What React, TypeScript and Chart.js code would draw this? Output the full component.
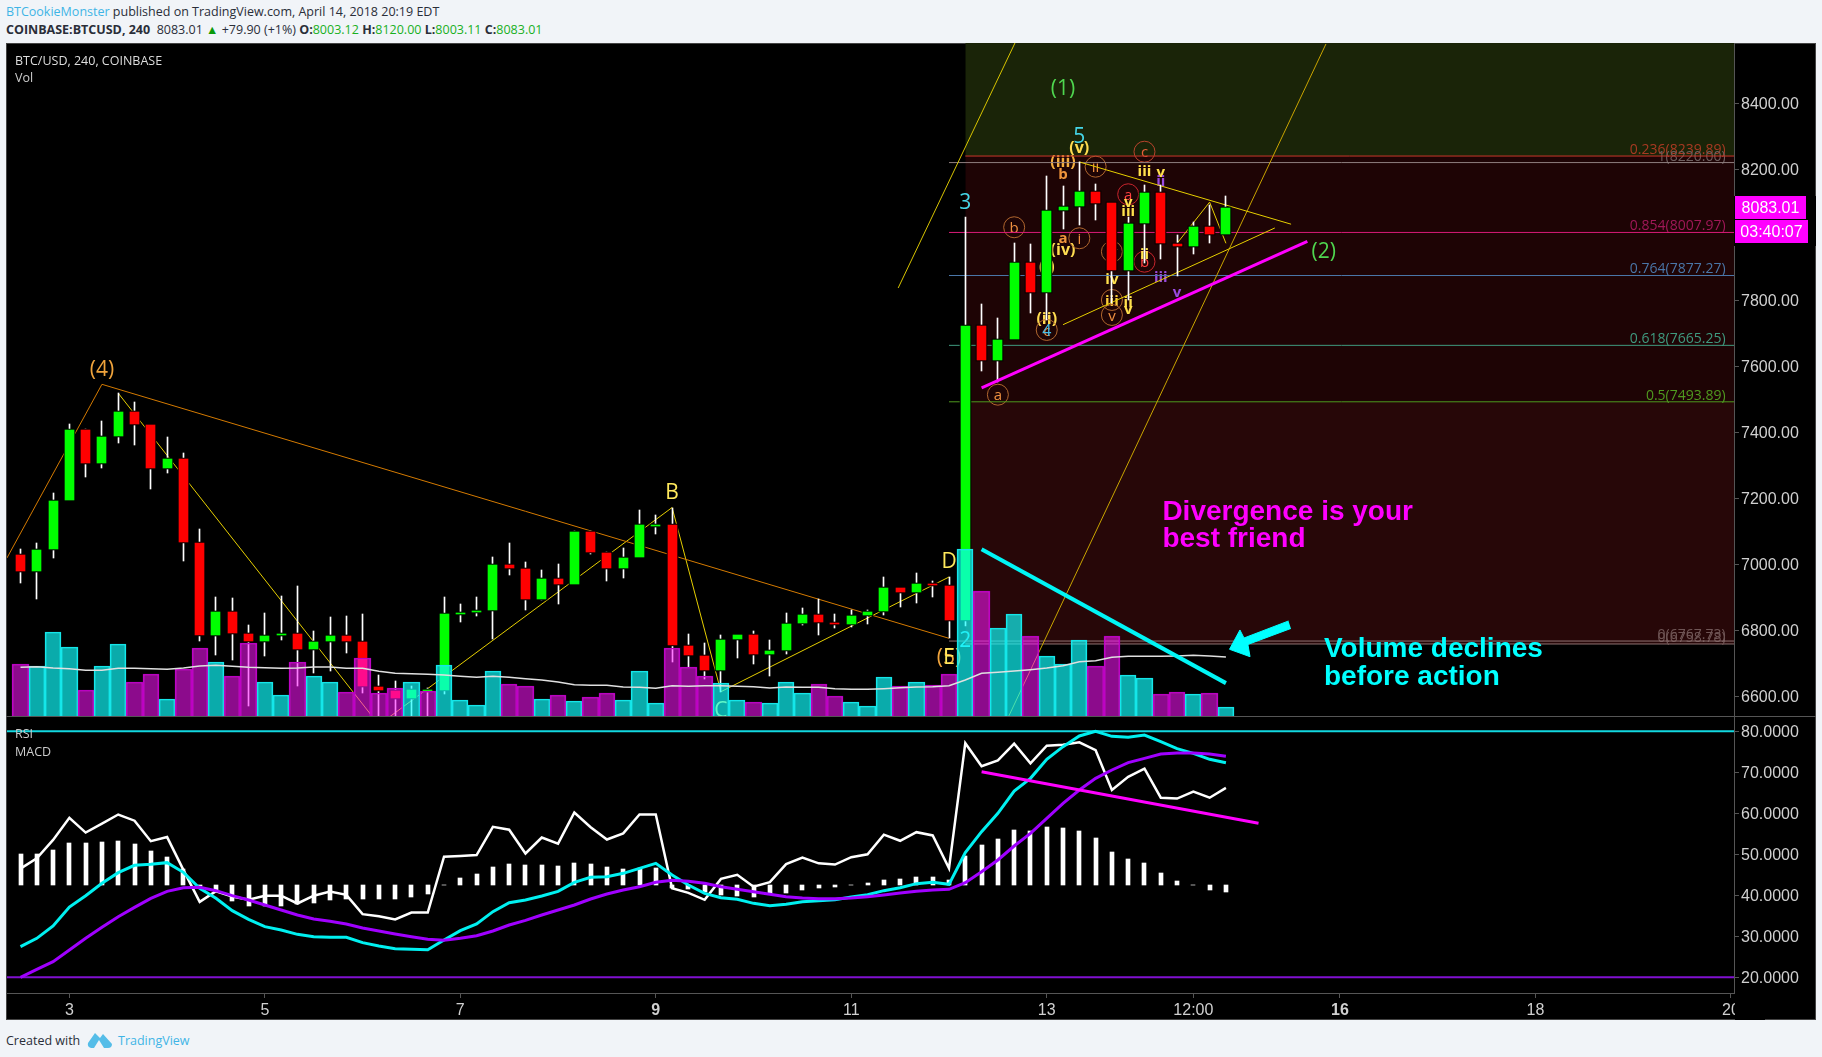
import React, { useEffect, useRef } from "react";
import { Chart, registerables } from "chart.js";

Chart.register(...registerables);

// ---------- DATA ----------
const opens = [7029,6980,7047,7196,7408,7308,7390,7464,7423,7293,7320,7065,6786,6856,6789,6768,6786,6789,6744,6768,6783,6765,6628,6616,6595,6619,6619,6853,6855,6862,6999,6986,6895,6956,6941,7099,7035,6989,7023,7120,7120,6752,6722,6680,6774,6786,6728,6740,6822,6847,6823,6819,6847,6859,6929,6917,6941,6935,6832,7725,7620,7684,7916,7826,8075,8087,8132,8096,7894,8036,8129,7974,7966,8026,8003.12];
const highs = [7046,7064,7216,7427,7410,7436,7520,7494,7425,7387,7339,7108,6901,6898,6816,6853,6904,6935,6798,6841,6844,6850,6665,6646,6631,6624,6901,6880,6901,7023,7065,7008,6983,7002,7101,7101,7037,7050,7165,7150,7173,6789,6761,6786,6787,6798,6771,6853,6868,6895,6850,6862,6862,6962,6930,6974,6950,6962,8054,7791,7747,7975,7973,8179,8149,8222,8155,8098,8056,8152,8152,8000,8041,8091,8120];
const lows = [6944,6895,7020,7196,7266,7293,7369,7363,7229,7278,7011,6768,6725,6710,6570,6722,6771,6631,6671,6677,6731,6609,6537,6540,6540,6540,6607,6825,6844,6774,6968,6862,6893,6880,6941,7032,6950,6959,7022,7093,6704,6690,6654,6614,6716,6698,6661,6728,6816,6786,6807,6811,6819,6847,6871,6883,6901,6776,6813,7588,7555,7684,7762,7742,8019,8030,8046,7793,7803,7914,7928,7877,7944,7976,8003.11];
const closes = [6980,7044,7193,7408,7308,7387,7464,7427,7293,7320,7068,6786,6856,6792,6768,6783,6790,6744,6765,6783,6768,6631,6619,6595,6619,6619,6850,6853,6858,6999,6989,6895,6956,6941,7099,7038,6989,7020,7120,7120,6756,6725,6680,6771,6786,6728,6737,6819,6847,6826,6820,6844,6856,6929,6917,6941,6938,6832,7724,7620,7683,7916,7826,8074,8086,8132,8096,7894,8035,8129,7975,7966,8026,8002,8083.01];
const volumes = [1550,1510,2510,2060,770,1510,2150,1010,1250,500,1400,2030,1610,1190,2180,1010,620,1610,1190,1010,710,1730,680,830,1010,740,1520,470,320,1340,950,890,500,620,440,560,680,470,1340,380,2030,1460,1190,980,480,410,380,1010,680,950,590,410,290,1160,890,1010,920,1250,5000,3740,2630,3050,2390,1790,1550,2270,1490,2390,1220,1130,650,710,650,680,260];
const volumeMA = [1460,1480,1440,1420,1370,1370,1430,1430,1420,1400,1440,1500,1520,1490,1460,1450,1430,1440,1470,1470,1430,1430,1340,1280,1270,1250,1230,1190,1160,1190,1160,1120,1080,1020,940,920,920,870,860,830,910,890,910,910,890,880,840,870,860,860,820,800,800,820,850,870,880,910,1080,1280,1310,1350,1390,1440,1510,1630,1660,1760,1790,1790,1790,1800,1820,1800,1770];
const volumeUp = [0,1,1,1,0,1,1,0,0,1,0,0,1,0,0,1,1,0,1,1,0,0,0,0,1,0,1,1,1,1,0,0,1,0,1,0,0,1,1,1,0,0,0,1,1,0,1,1,1,0,0,1,1,1,0,1,0,0,1,0,1,1,0,1,1,1,0,0,1,1,0,0,1,0,1];
const rsiValues = [46.5,49.0,53.5,58.9,55.3,57.5,59.7,58.2,53.2,54.2,46.2,38.4,41.0,39.7,38.9,39.9,39.9,38.0,39.9,40.9,40.1,35.4,34.9,34.1,35.8,35.8,49.4,49.6,49.8,56.7,56.0,50.2,54.1,52.6,60.2,56.6,53.6,55.1,59.7,59.7,41.7,40.6,38.9,44.0,45.0,42.1,43.2,47.6,49.2,47.8,47.5,49.3,50.0,54.8,53.3,55.4,54.6,46.6,77.1,71.5,72.9,77.0,72.2,76.5,76.7,77.3,75.4,65.7,68.9,70.9,63.8,63.6,65.3,63.8,66.2];
const macdValues = [-185,-160,-123,-66,-32,5,37,59,62,67,38,-10,-40,-77,-103,-125,-135,-148,-155,-157,-157,-173,-183,-191,-193,-194,-165,-137,-117,-80,-53,-45,-33,-19,8,23,25,35,50,65,30,0,-25,-38,-43,-55,-62,-58,-50,-47,-44,-36,-29,-17,-8,4,8,2,97,160,215,282,320,377,415,447,461,446,443,450,430,409,395,377,367];
const signalValues = [-277,-253,-230,-195,-160,-127,-95,-67,-40,-19,-8,-7,-17,-32,-45,-60,-75,-90,-102,-109,-117,-129,-138,-147,-155,-163,-166,-160,-152,-138,-120,-106,-90,-75,-60,-42,-27,-15,-5,8,14,11,5,-5,-13,-20,-28,-35,-39,-41,-41,-39,-35,-30,-24,-19,-15,-13,7,40,75,117,155,200,245,285,320,345,367,380,393,396,396,393,386];
const histValues = [93,92,105,125,125,128,131,123,102,83,47,-2,-16,-49,-62,-63,-62,-58,-53,-45,-43,-42,-42,-42,-36,-28,0,21,32,54,62,59,59,57,66,62,54,48,51,51,-10,-12,-21,-31,-33,-35,-27,-24,-15,-8,-5,0,6,15,18,24,24,15,87,120,138,165,162,174,171,162,141,99,78,66,36,12,0,-15,-21];

const xTickBars = [3,15,27,39,51,63,72,81,93,105];
const xTickLabels = ["3","5","7","9","11","13","12:00","16","18","20"];
const xTickBold = ["9","16"];
const priceTicks = [6600,6800,7000,7200,7400,7600,7800,8000,8200,8400];
const rsiTicks = [20,30,40,50,60,70,80];

const fibNames = ["0.236","1","0.854","0.764","0.618","0.5","0","0"];
const fibPrices = [8239.89,8220.0,8007.97,7877.27,7665.25,7493.89,6767.73,6758.78];
const fibStarts = [58,57,57,57,57,57,57,58];
const fibColors = ["#c8382a","#8f7f7f","#d81b78","#4a76a8","#3f9a7f","#4f9a1f","#8f7373","#8f7373"];
const fibTextColors = ["#a83a22","#6f5f5f","#a01858","#4a76a8","#3f9a7f","#4f9a1f","#6f5555","#6f5555"];

const orangeWave = [[-0.83,7020],[5,7547],[57,6776]];
const yellowWave = [[6,7520],[22,6513.5],[40,7173],[43,6614],[57,6962]];
const miniWave = [[71,7975],[73,8100],[74,7975]];
const triangleUpper = [[65,8222],[78,8033]];
const triangleLower = [[64,7728],[77,8021.5]];
const channelA = [[53.88,7839.4],[61.05,8583]];
const channelB = [[60.66,6539],[80.14,8580]];
const priceSupport = [[59,7536],[79,7981]];
const volumeTrend = [[59,7046],[74,6640]];
const arrowShape = [[77.84,6828.6],[75.11,6777],[74.86,6801.3],[74.22,6742.7],[75.48,6720.2],[75.35,6757.3],[77.99,6805.9]];
const rsiTrend = [[59,70.15],[76,57.56]];

const waveLabels = [
  ["(4)",5,7593.5,"bigOrange"],["B",40,7221,"bigYellow"],["D",57,7011.6,"bigYellow"],
  ["(5)",57,6719.3,"bigOrange"],["E",57,6719.3,"bigYellow"],["C",43,6560.6,"bigYellow"],
  ["2",58,6771,"bigCyan"],["3",58,8101.4,"bigCyan"],["(1)",64,8446.5,"bigGreen"],["(2)",80,7952.6,"bigGreen"],
  ["(i)",63,7906.2,"romYellowBig"],["(iii)",64,8225.8,"romOrangeBig"],["b",64,8187.6,"romOrange"],
  ["b",61,8023.7,"circOrange"],["a",60,7515.5,"circOrange"],["a",64,7993.3,"romOrange"],["(iv)",64,7957.8,"romYellowBig"],
  ["i",65,7990.3,"circOrange"],["ii",66,8207.6,"circOrange"],["c",69,8253,"circRust"],["a",68,8123.8,"circRed"],
  ["b",69,7919.2,"circRed"],["iii",69,8197.6,"romYellow"],["v",70,8192.4,"romYellow"],["ii",70,8167,"romPurple"],
  ["iv",67,7868.8,"romYellow"],["iv",67,7949.6,"circOrange"],["iii",67,7803,"circGold"],["v",67,7757.5,"circOrange"],
  ["iii",68,8076.2,"romYellow"],["v",68,8101.4,"romYellow"],["ii",69,7944.7,"romYellow"],["ii",68,7797.8,"romYellow"],
  ["v",68,7778.7,"romYellow"],["iii",70,7875.8,"romPurple"],["v",71,7829.4,"romPurple"],["(ii)",63,7747.4,"romYellowBig"],
  ["c",63,7712,"circOrange"],["4",63,7712,"smallCyan"],["5",65,8300.8,"bigCyan"],["(v)",65,8268.3,"romYellowBig"],
];
const noteLabels = [
  ["Divergence is your",70.1,7160,"noteMagenta"],["best friend",70.1,7077,"noteMagenta"],
  ["Volume declines",80.02,6743,"noteCyan"],["before action",80.02,6658,"noteCyan"],
];
const lastPrice = 8083.01;
const countdown = "03:40:07";

// ---------- STYLES / GEOMETRY ----------
const LABEL_FONT = '"Open Sans", sans-serif';
const AXIS_FONT = '"Liberation Sans", Arial, sans-serif';
const UI_FONT = '"Open Sans", sans-serif';
const labelStyles: any = {
  bigOrange: { size: 21, color: "#f0a43c" }, bigYellow: { size: 21, color: "#ffe95c" },
  bigCyan: { size: 21, color: "#45d6e8" }, bigGreen: { size: 21, color: "#4fd64f" },
  smallCyan: { size: 16, color: "#45bce8" },
  romYellow: { size: 15, bold: true, color: "#ffe14d" }, romOrange: { size: 15, bold: true, color: "#f0953c" },
  romPurple: { size: 15, bold: true, color: "#9a4be0" },
  romYellowBig: { size: 16, bold: true, color: "#ffdc50" }, romOrangeBig: { size: 16, bold: true, color: "#f5b040" },
  circOrange: { size: 15, color: "#f09040", circle: "#b0662e" }, circRed: { size: 15, color: "#ff4040", circle: "#c8242c" },
  circRust: { size: 15, color: "#e8603a", circle: "#b8442c" }, circGold: { size: 15, bold: true, color: "#ffcf3c", circle: "#b0662e" },
  noteMagenta: { size: 28, bold: true, color: "#ff00ff", align: "left", family: AXIS_FONT },
  noteCyan: { size: 28, bold: true, color: "#00ffff", align: "left", family: AXIS_FONT },
};
const GRID = "#555555";
const TICK_COLOR = "#d0d0d0";
const X_MIN = -0.829, X_MAX = 105.19;
const AXIS_W = 88;

const pts = (arr: number[][]) => arr.map(([x, y]) => ({ x, y }));
const bars = (vals: any[]) => vals.map((y, x) => ({ x, y }));
const seg = (arr: number[][], color: string, width: number, order: number, yAxisID: string, extra: any = {}) => ({
  type: "line", data: pts(arr), borderColor: color, backgroundColor: color, borderWidth: width,
  pointRadius: 0, tension: 0, order, yAxisID, xAxisID: "x", ...extra,
});

function drawText(chart: any, list: any[]) {
  const { ctx, scales } = chart;
  ctx.save();
  for (const [text, i, p, key] of list) {
    const st = labelStyles[key];
    const x = scales.x.getPixelForValue(i), y = scales.y.getPixelForValue(p);
    if (st.circle) {
      ctx.beginPath(); ctx.arc(x, y, 10.5, 0, Math.PI * 2);
      ctx.strokeStyle = st.circle; ctx.lineWidth = 1; ctx.stroke();
    }
    ctx.font = `${st.bold ? "700 " : ""}${st.size}px ${st.family || LABEL_FONT}`;
    ctx.fillStyle = st.color; ctx.textAlign = st.align || "center"; ctx.textBaseline = "middle";
    ctx.fillText(text, x, st.family ? y : y + 1.5);
  }
  ctx.restore();
}

function drawFibLabels(chart: any) {
  const { ctx, scales } = chart;
  ctx.save();
  ctx.font = `14px ${UI_FONT}`; ctx.textAlign = "right"; ctx.textBaseline = "bottom";
  fibPrices.forEach((p, k) => {
    ctx.fillStyle = fibTextColors[k];
    ctx.fillText(`${fibNames[k]}(${p.toFixed(2)})`, scales.x.getPixelForValue(104.67), scales.y.getPixelForValue(p) + 1);
  });
  ctx.restore();
}

const snapPlugin = {
  id: "snap",
  afterDatasetsUpdate(chart: any) {
    chart.data.datasets.forEach((ds: any, k: number) => {
      if (!ds.snap) return;
      chart.getDatasetMeta(k).data.forEach((el: any) => {
        const l = Math.round(el.x - el.width / 2);
        const r = Math.max(l + 1, Math.round(el.x + el.width / 2));
        el.x = (l + r) / 2; el.width = r - l;
        let top = Math.round(Math.min(el.y, el.base)), bot = Math.round(Math.max(el.y, el.base));
        if (ds.snap === "body" && bot <= top) bot = top + 1;
        if (ds.grow) { top -= ds.grow; bot += ds.grow; }
        el.y = top; el.base = bot; el.height = bot - top;
      });
    });
  },
};

const layerPlugin = {
  id: "layers",
  afterDatasetDraw(chart: any, args: any) {
    if (chart.data.datasets[args.index].labelsAfter) {
      drawFibLabels(chart);
      drawText(chart, waveLabels);
    }
  },
  afterDatasetsDraw(chart: any) { drawText(chart, noteLabels); },
  afterDraw(chart: any) {
    const { ctx, chartArea, scales } = chart;
    const y = Math.round(scales.y.getPixelForValue(lastPrice));
    const x = chartArea.right;
    ctx.save();
    ctx.fillStyle = "#000"; ctx.fillRect(x, y - 12, 82, 50);
    ctx.fillStyle = "#ff00ff";
    ctx.fillRect(x + 1, y - 12, 71, 23); ctx.fillRect(x + 1, y + 12, 73, 23);
    ctx.fillStyle = "#ffffff"; ctx.font = `16px ${AXIS_FONT}`; ctx.textBaseline = "middle"; ctx.textAlign = "center";
    ctx.fillText(lastPrice.toFixed(2), x + 36.5, y + 1);
    ctx.fillText(countdown, x + 37.5, y + 25);
    ctx.restore();
  },
};

const clipTickPlugin = {
  id: "clipLast",
  afterDraw(chart: any) {
    const { ctx, chartArea } = chart;
    ctx.save(); ctx.fillStyle = "#000";
    ctx.fillRect(chartArea.right + 1, chartArea.bottom + 1, 30, 26);
    ctx.restore();
  },
};

function yAxis(min: number, max: number, values: number[], digits: number) {
  return {
    type: "linear", position: "right", min, max,
    grid: { display: true, drawOnChartArea: false, drawTicks: true, tickLength: 5, tickColor: GRID, color: GRID },
    border: { display: true, color: GRID },
    ticks: { color: TICK_COLOR, padding: 2, labelOffset: 1, font: { family: AXIS_FONT, size: 16 }, autoSkip: false,
      callback: (v: number) => v.toFixed(digits) },
    afterBuildTicks: (s: any) => { s.ticks = values.map((value) => ({ value })); },
    afterFit: (s: any) => { s.width = AXIS_W; s.paddingTop = 0; s.paddingBottom = 0; },
  };
}

function priceConfig(): any {
  const bandEnd = X_MAX, topPrice = 8583;
  const datasets: any[] = [
    seg([[58, topPrice],[bandEnd, topPrice]], "#1a2408", 0, 100, "y", { fill: { value: 8239.89 }, backgroundColor: "#1a2408" }),
    seg([[58, 8239.89],[bandEnd, 8239.89]], "#1e0405", 0, 100, "y", { fill: { value: 7493.89 }, backgroundColor: "#1e0405" }),
    seg([[58, 7493.89],[bandEnd, 7493.89]], "#270708", 0, 100, "y", { fill: { value: 6758.78 }, backgroundColor: "#270708" }),
    ...fibPrices.map((p, k) =>
      seg([[fibStarts[k], p],[bandEnd, p]], fibColors[k], 1, 90, "y", { labelsAfter: k === fibPrices.length - 1 })),
    seg(orangeWave, "#d47a00", 1, 80, "y"),
    seg(yellowWave, "#e6cf00", 1, 80, "y"),
    seg(miniWave, "#e6cf00", 1, 80, "y"),
    seg(triangleUpper, "#e6cf00", 1, 80, "y"),
    seg(triangleLower, "#e6cf00", 1, 80, "y"),
    seg(channelA, "#d8c400", 1, 80, "y"),
    seg(channelB, "#c9a400", 1, 80, "y"),
    { type: "bar", label: "wick", data: bars(lows.map((l, i) => [l, highs[i]])), backgroundColor: "#ffffff",
      barThickness: 1, order: 70, yAxisID: "y", xAxisID: "x", grouped: false, snap: "wick" },
    { type: "bar", label: "outline", data: bars(opens.map((o, i) => [o, closes[i]])), backgroundColor: "#000000",
      barThickness: 11, order: 60, yAxisID: "y", xAxisID: "x", grouped: false, snap: "body", grow: 1 },
    { type: "bar", label: "BTC/USD", data: bars(opens.map((o, i) => [o, closes[i]])),
      backgroundColor: opens.map((o, i) => (closes[i] >= o ? "#00ff00" : "#ff0000")),
      barThickness: 9, order: 50, yAxisID: "y", xAxisID: "x", grouped: false, snap: "body" },
    { type: "bar", label: "Vol", data: bars(volumes),
      backgroundColor: volumeUp.map((u) => (u ? "rgba(15,255,255,0.67)" : "rgba(255,20,255,0.55)")),
      borderColor: volumeUp.map((u) => (u ? "#18e0e4" : "#b000b8")), borderWidth: 1,
      barPercentage: 1, categoryPercentage: 1, order: 40, yAxisID: "yVol", xAxisID: "x", grouped: false, snap: "vol" },
    seg(volumeMA.map((v, i) => [i, v]), "#e0e0e0", 1.5, 30, "yVol"),
    seg(priceSupport, "#ff00ff", 3, 20, "y"),
    seg(volumeTrend, "#00f5f5", 4, 20, "y"),
    seg(arrowShape, "#00ffff", 1, 20, "y", { fill: "shape", backgroundColor: "#00ffff" }),
  ];
  return {
    type: "bar",
    data: { datasets },
    plugins: [snapPlugin, layerPlugin],
    options: {
      animation: false, responsive: false, devicePixelRatio: 1,
      layout: { padding: { left: 7, top: 43, right: 0, bottom: 0 } },
      plugins: { legend: { display: false }, tooltip: { enabled: false } },
      scales: {
        x: { type: "linear", offset: false, min: X_MIN, max: X_MAX, display: false },
        y: yAxis(6540.2, 8583, priceTicks, 2),
        yVol: { type: "linear", display: false, min: 0, max: 20190 },
      },
    },
  };
}

function indicatorConfig(): any {
  const datasets: any[] = [
    seg([[X_MIN, 80],[X_MAX, 80]], "#12d8e0", 2, 90, "y"),
    seg([[X_MIN, 20],[X_MAX, 20]], "#8010d0", 2, 90, "y"),
    { type: "bar", label: "Histogram", data: bars(histValues), backgroundColor: "#ffffff", barThickness: 4,
      order: 60, yAxisID: "yMacd", xAxisID: "x", grouped: false, snap: "hist" },
    seg(rsiValues.map((v, i) => [i, v]), "#ffffff", 2.5, 50, "y"),
    seg(macdValues.map((v, i) => [i, v]), "#00f0f0", 3, 40, "yMacd"),
    seg(signalValues.map((v, i) => [i, v]), "#a000ff", 3, 30, "yMacd"),
    seg(rsiTrend, "#ff00ff", 3, 20, "y"),
  ];
  return {
    type: "bar",
    data: { datasets },
    plugins: [snapPlugin, clipTickPlugin],
    options: {
      animation: false, responsive: false, devicePixelRatio: 1,
      layout: { padding: { left: 7, top: 0, right: 0, bottom: 0 } },
      plugins: { legend: { display: false }, tooltip: { enabled: false } },
      scales: {
        x: {
          type: "linear", offset: false, position: "bottom", min: X_MIN, max: X_MAX,
          grid: { display: true, offset: false, drawOnChartArea: false, drawTicks: true, tickLength: 5, tickColor: GRID, color: GRID },
          border: { display: true, color: GRID },
          ticks: {
            autoSkip: false, maxRotation: 0, minRotation: 0, padding: 3, color: TICK_COLOR,
            font: (c: any) => ({ family: AXIS_FONT, size: 16, weight: xTickBold.includes(xTickLabels[c.index]) ? "bold" : "normal" }),
            callback: (v: number) => xTickLabels[xTickBars.indexOf(v)],
          },
          afterBuildTicks: (s: any) => { s.ticks = xTickBars.map((value) => ({ value })); },
          afterFit: (s: any) => { s.height = 28; s.paddingLeft = 0; s.paddingRight = 0; },
        },
        y: yAxis(16.17, 83.73, rsiTicks, 4),
        yMacd: { type: "linear", display: false, min: -324, max: 507 },
      },
    },
  };
}

const abs = (left: number, top: number, extra: any = {}): any => ({
  position: "absolute", left, top, whiteSpace: "nowrap", lineHeight: "16px", ...extra,
});

export default function App() {
  const topRef = useRef<HTMLCanvasElement>(null);
  const botRef = useRef<HTMLCanvasElement>(null);
  useEffect(() => {
    const a = new Chart(topRef.current as any, priceConfig());
    const b = new Chart(botRef.current as any, indicatorConfig());
    return () => { a.destroy(); b.destroy(); };
  }, []);
  const green = { color: "#19b01e" };
  const blue = "#3fb4e6";
  return (
    <div style={{ position: "absolute", left: 0, top: 0, width: 1822, height: 1057, background: "#f1f4f8", overflow: "hidden", fontFamily: UI_FONT, fontSize: 12.5, color: "#2a2e39" }}>
      <div style={abs(6, 4)}><span style={{ color: blue }}>BTCookieMonster</span> published on TradingView.com, April 14, 2018 20:19 EDT</div>
      <div style={abs(6, 22)}>
        <b>COINBASE:BTCUSD, 240</b>&nbsp; 8083.01 <span style={{ color: "#0a9a0a" }}>▲</span> +79.90 (+1%) <b>O:</b><span style={green}>8003.12</span> <b>H:</b><span style={green}>8120.00</span> <b>L:</b><span style={green}>8003.11</span> <b>C:</b><span style={green}>8083.01</span>
      </div>
      <div style={{ position: "absolute", left: 6, top: 43, width: 1810, height: 977, background: "#000", boxSizing: "border-box", border: "1px solid #444" }} />
      <canvas ref={topRef} width={1822} height={716} style={{ position: "absolute", left: 0, top: 0 }} />
      <canvas ref={botRef} width={1822} height={305} style={{ position: "absolute", left: 0, top: 716 }} />
      <div style={{ position: "absolute", left: 6, top: 716, width: 1810, height: 1, background: GRID }} />
      <div style={abs(15, 53, { color: "#ddd" })}>BTC/USD, 240, COINBASE</div>
      <div style={abs(15, 70, { color: "#ccc" })}>Vol</div>
      <div style={abs(15, 726, { color: "#ccc" })}>RSI</div>
      <div style={abs(15, 744, { color: "#ccc" })}>MACD</div>
      <div style={abs(6, 1033)}>Created with</div>
      <svg width="26" height="18" viewBox="0 0 26 18" style={{ position: "absolute", left: 87, top: 1031 }}>
        <path d="M1 12 L8 2 L13 7 L16 3 L25 13 Q25 17 21 17 L17 17 L12 9 L7 17 L4 17 Q0 16 1 12 Z" fill="#55bde8" />
      </svg>
      <div style={abs(118, 1033, { color: blue })}>TradingView</div>
    </div>
  );
}
